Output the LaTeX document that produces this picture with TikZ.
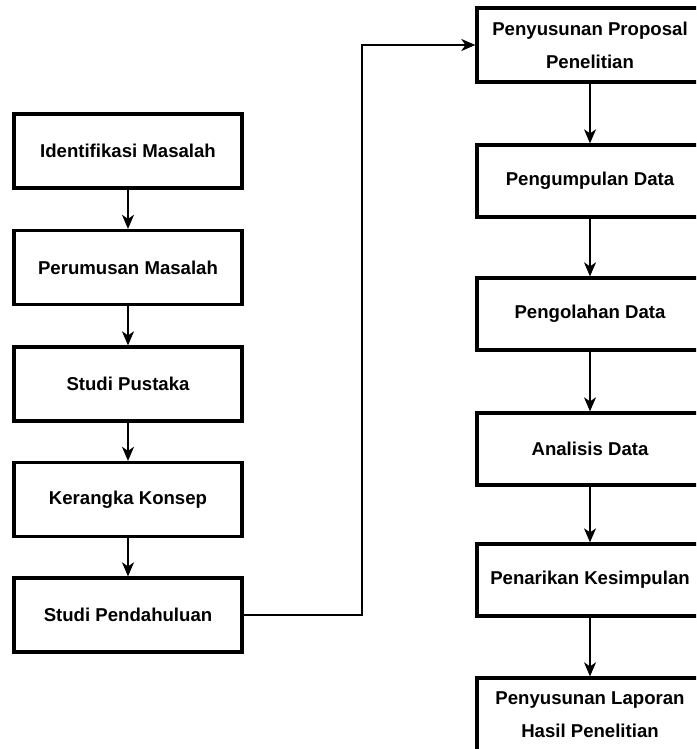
\documentclass[tikz,border=0pt]{standalone}
\usepackage{fontspec}
\setmainfont{Liberation Sans}
\usetikzlibrary{arrows.meta}
\begin{document}
\begin{tikzpicture}[x=1pt,y=1pt,
  box/.style={draw=black, line width=3.3pt, fill=white, minimum width=228pt, minimum height=74pt,
    inner sep=0pt, align=center, font=\fontsize{18.6}{33}\selectfont\bfseries},
  conn/.style={draw=black, line width=1.3pt, -{Stealth[length=14pt,width=12pt,inset=4pt]}}]
\useasboundingbox (0,0) rectangle (696,-749);
\clip (0,0) rectangle (696,-749);
\fill[white] (0,0) rectangle (696,-749);
% left column
\node[box] (a1) at (128,-151) {Identifikasi Masalah};
\node[box] (a2) at (128,-267.5) {Perumusan Masalah};
\node[box] (a3) at (128,-384) {Studi Pustaka};
\node[box] (a4) at (128,-499.5) {Kerangka Konsep};
\node[box] (a5) at (128,-615) {Studi Pendahuluan};
% right column
\node[box, minimum width=226pt] (b1) at (590,-45) {Penyusunan Proposal\\Penelitian};
\node[box, minimum width=226pt, minimum height=72pt] (b2) at (590,-181) {Pengumpulan Data};
\node[box, minimum width=226pt, minimum height=72pt] (b3) at (590,-314) {Pengolahan Data};
\node[box, minimum width=226pt, minimum height=72pt] (b4) at (590,-449) {Analisis Data};
\node[box, minimum width=226pt, minimum height=72pt] (b5) at (590,-580) {Penarikan Kesimpulan};
\node[box, minimum width=226pt] (b6) at (590,-715) {Penyusunan Laporan\\Hasil Penelitian};
% connectors
\draw[conn] (a1) -- (a2);
\draw[conn] (a2) -- (a3);
\draw[conn] (a3) -- (a4);
\draw[conn] (a4) -- (a5);
\coordinate (bend) at (362,-45);
\draw[conn] (a5.east) -| (bend) -- (b1.west);
\draw[conn] (b1) -- (b2);
\draw[conn] (b2) -- (b3);
\draw[conn] (b3) -- (b4);
\draw[conn] (b4) -- (b5);
\draw[conn] (b5) -- (b6);
\end{tikzpicture}
\end{document}
